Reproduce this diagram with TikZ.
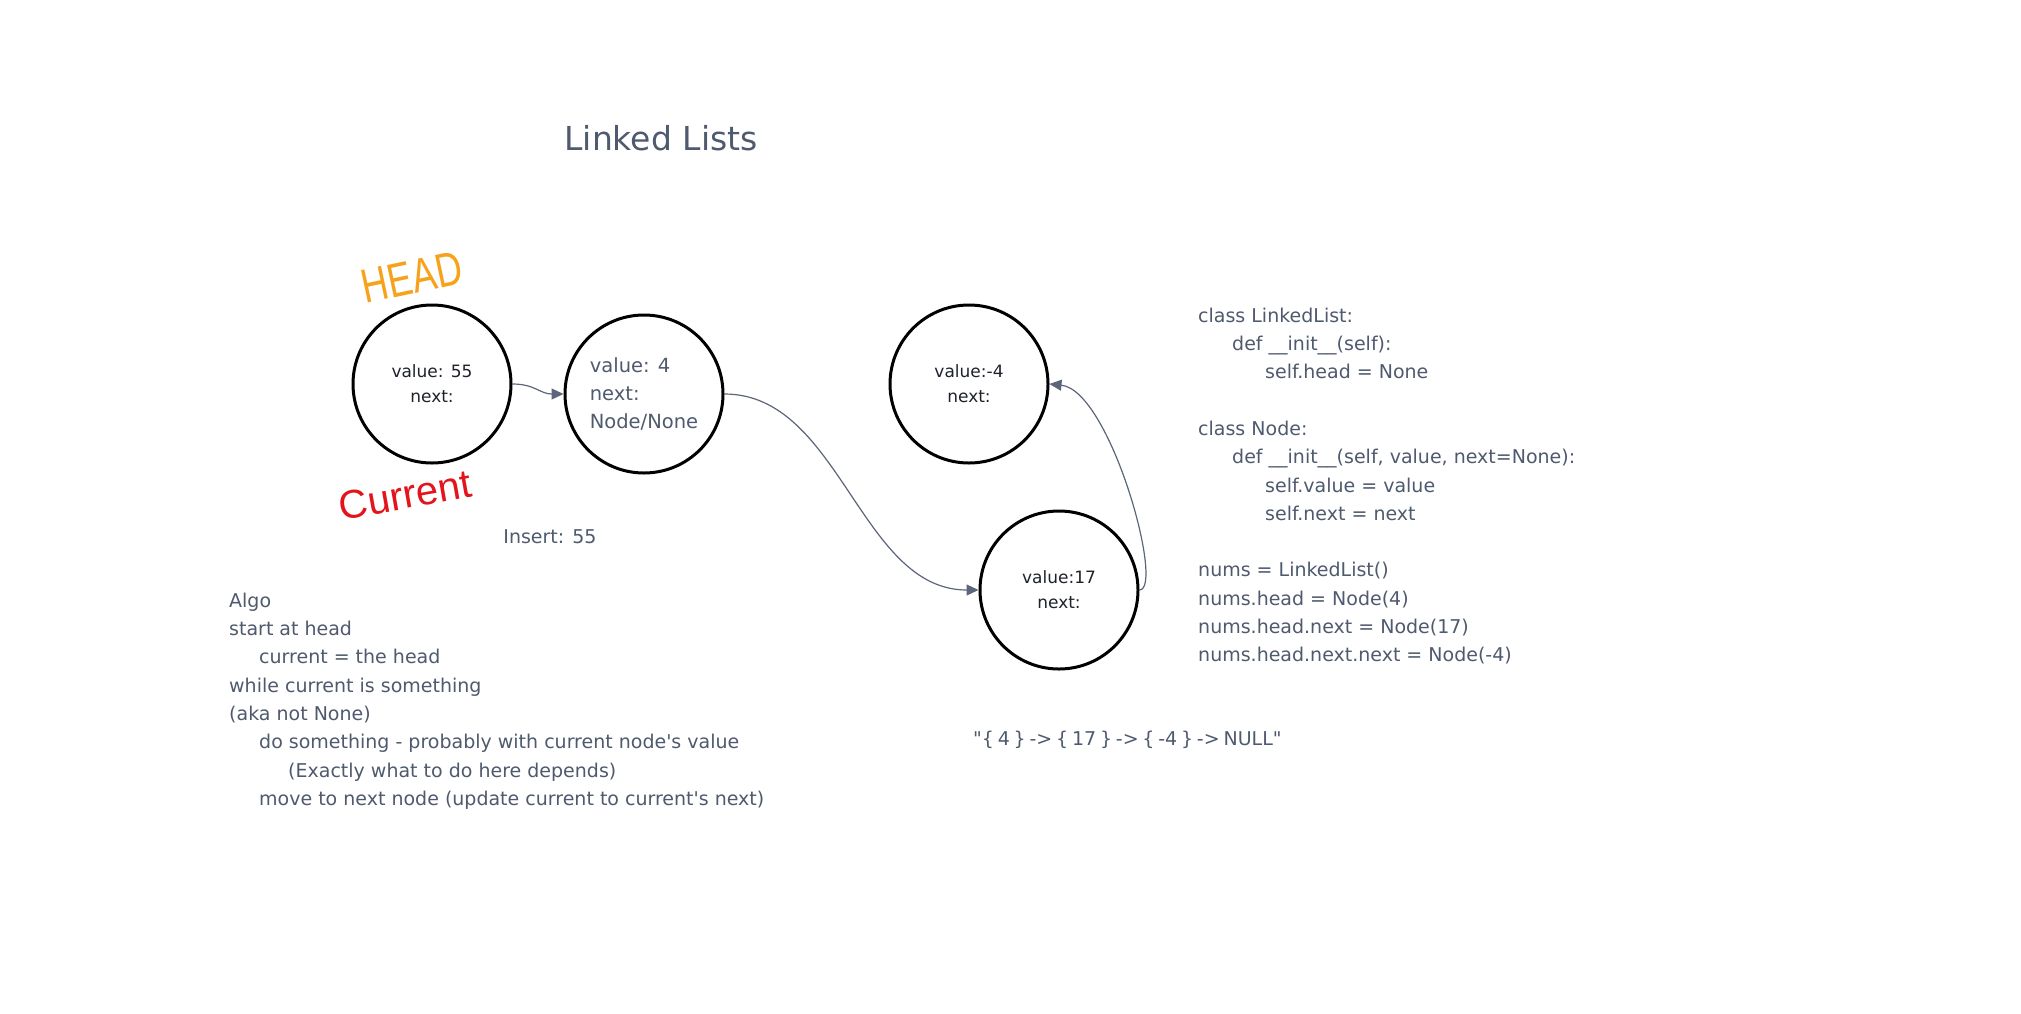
\documentclass[tikz,border=0pt]{standalone}
\usepackage{fontspec}
\setmainfont{DejaVu Sans}[Ligatures=TeXOff]
\newfontfamily\handfont{Liberation Sans}
\usetikzlibrary{arrows.meta}
\definecolor{slate}{HTML}{4F5A6E}
\definecolor{arr}{HTML}{5C6579}
\definecolor{dark}{HTML}{1E232B}
\definecolor{headc}{HTML}{F7A21B}
\definecolor{curc}{HTML}{E3141B}
\begin{document}
\begin{tikzpicture}[x=1pt,y=-1pt,
  lnode/.style={circle,draw=black,line width=3pt,minimum size=158pt,inner sep=0pt,align=center,
    text=dark,font=\fontsize{17}{25}\selectfont},
  link/.style={draw=arr,line width=1.2pt,-{Triangle[length=12pt,width=11pt]}},
  txt/.style={text=slate,font=\fontsize{19}{28.3}\selectfont,inner sep=0pt},
  block/.style={txt,align=left,anchor=north west},
]
\useasboundingbox[fill=white] (0,0) rectangle (2021,1013);

\node[txt,font=\fontsize{33}{40}\selectfont] (title) at (661,138) {Linked Lists};

\node[lnode] (n1) at (432,384) {value: 55\\next:};
\node[lnode,align=left,text=slate,font=\fontsize{19.5}{28}\selectfont] (n2) at (644,394) {value: 4\\next:\\Node/None};
\node[lnode] (n3) at (969,384) {value:-4\\next:};
\node[lnode] (n4) at (1059,590) {value:17\\next:};

\node[text=headc,font=\handfont\fontsize{48}{48}\selectfont,rotate=12,inner sep=0pt] (head) at (412,277) {\scalebox{0.76}[1]{HEAD}};
\node[text=curc,font=\handfont\fontsize{40}{40}\selectfont,rotate=10,inner sep=0pt] (cur) at (405,495) {Current};

\node[txt] (ins) at (550,537) {Insert: 55};

\draw[link] (n1.east) .. controls (535,384) and (540,394) .. (n2.west);
\draw[link] (n2.east) .. controls (840,394) and (860,590) .. (n4.west);
\draw[link] (n4.east) .. controls (1165,589) and (1110,390) .. (n3.east);

\node[block] (algo) at (229,587.2) {\strut Algo\\
start at head\\
\hspace*{30pt}current = the head\\
while current is something\\
(aka not None)\\
\hspace*{30pt}do something - probably with current node's value\\
\hspace*{59pt}(Exactly what to do here depends)\\
\hspace*{30pt}move to next node (update current to current's next)};

\node[block] (code) at (1198,302.2) {\strut class LinkedList:\\
\hspace*{34pt}def \_\_init\_\_(self):\\
\hspace*{67pt}self.head = None\\
\strut\\
class Node:\\
\hspace*{34pt}def \_\_init\_\_(self, value, next=None):\\
\hspace*{67pt}self.value = value\\
\hspace*{67pt}self.next = next\\
\strut\\
nums = LinkedList()\\
nums.head = Node(4)\\
nums.head.next = Node(17)\\
nums.head.next.next = Node(-4)};

\node[txt,anchor=west] (str) at (973,740) {\spaceskip=0.2em "\{ 4 \} -> \{ 17 \} -> \{ -4 \} -> NULL"};
\end{tikzpicture}
\end{document}
